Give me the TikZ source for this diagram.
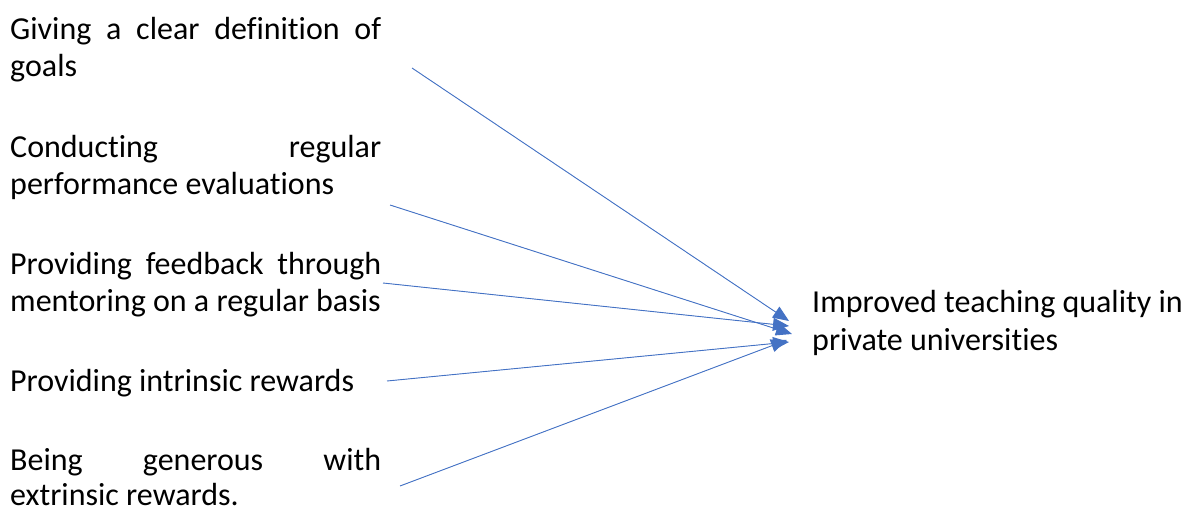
\documentclass[tikz,border=0pt]{standalone}
\usepackage{fontspec}
\setmainfont[Ligatures={NoCommon}]{Carlito}
\usetikzlibrary{arrows.meta}
\definecolor{arrowblue}{RGB}{68,114,196}
\newcommand{\jl}[1]{\hbox to 371pt{#1}}
\begin{document}
\begin{tikzpicture}[x=1pt,y=-1pt,
  txt/.style={anchor=base west,inner sep=0pt,font=\fontsize{32}{38}\selectfont},
  conn/.style={draw=arrowblue,line width=0.9pt,-{Triangle[length=16pt,width=13pt]},fill=arrowblue}]
\useasboundingbox (0,0) rectangle (1186,511);
% left blocks
\node[txt] (a1) at (10,40) {\jl{Giving\hfill a\hfill clear\hfill definition\hfill of}};
\node[txt] (a2) at (10,77) {goals};
\node[txt] (b1) at (10,157) {\jl{Conducting\hfill regular}};
\node[txt] (b2) at (10,194) {performance evaluations};
\node[txt] (c1) at (10,274) {\jl{Providing\hfill feedback\hfill through}};
\node[txt] (c2) at (10,311) {mentoring on a regular basis};
\node[txt] (d1) at (10,391) {Providing intrinsic rewards};
\node[txt] (e1) at (10,470) {\jl{Being\hfill generous\hfill with}};
\node[txt] (e2) at (10,505) {extrinsic rewards.};
% right block
\node[txt] (r1) at (812,312) {Improved teaching quality in};
\node[txt] (r2) at (812,350) {private universities};
% connector ends
\coordinate (s1) at (412,68);
\coordinate (s2) at (390,205);
\coordinate (s3) at (383,283);
\coordinate (s4) at (387,381);
\coordinate (s5) at (400,486);
\coordinate (t1) at (789,321);
\coordinate (t2) at (792,334);
\coordinate (t3) at (789,326);
\coordinate (t4) at (789,342);
\coordinate (t5) at (787,340);
\draw[conn] (s1) -- (t1);
\draw[conn] (s2) -- (t2);
\draw[conn] (s3) -- (t3);
\draw[conn] (s4) -- (t4);
\draw[conn] (s5) -- (t5);
\end{tikzpicture}
\end{document}
